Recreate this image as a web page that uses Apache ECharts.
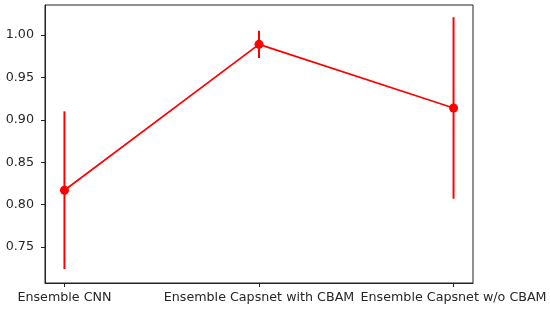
<!DOCTYPE html>
<html>
<head>
<meta charset="utf-8">
<script src="https://cdn.jsdelivr.net/npm/echarts@6/dist/echarts.min.js"></script>
<style>
  html, body { margin: 0; padding: 0; background: #fff; }
  #chart { width: 550px; height: 315px; }
</style>
</head>
<body>
<div id="chart"></div>
<script>
// data
const categories = ['Ensemble CNN', 'Ensemble Capsnet with CBAM', 'Ensemble Capsnet w/o CBAM']
const means = [0.817, 0.989, 0.914]
const errors = [0.093, 0.016, 0.107]
const yTicks = [0.75, 0.80, 0.85, 0.90, 0.95, 1.00]

const red = '#ff0000'
const font = 'DejaVu Sans'

const chart = echarts.init(document.getElementById('chart'))

chart.setOption({
  animation: false,
  grid: {
    left: 45,
    right: 77,
    top: 5,
    bottom: 32,
    show: true,
    borderColor: '#222',
    borderWidth: 1
  },
  xAxis: {
    type: 'value',
    min: -0.1,
    max: 2.1,
    splitLine: { show: false },
    axisLine: { show: true, onZero: false, lineStyle: { color: '#222' } },
    axisTick: { show: true, customValues: [0, 1, 2], length: 4, lineStyle: { color: '#222' } },
    axisLabel: {
      customValues: [0, 1, 2],
      formatter: v => categories[Math.round(v)],
      color: '#262626',
      fontFamily: font,
      fontSize: 12.7,
      margin: 8
    }
  },
  yAxis: {
    type: 'value',
    min: 0.7076,
    max: 1.0354,
    splitLine: { show: false },
    axisLine: { show: true, onZero: false, lineStyle: { color: '#222' } },
    axisTick: { show: true, customValues: yTicks, length: 4, lineStyle: { color: '#222' } },
    axisLabel: {
      customValues: yTicks,
      formatter: v => v.toFixed(2),
      color: '#262626',
      fontFamily: font,
      fontSize: 12.7,
      margin: 11
    }
  },
  series: [
    {
      type: 'custom',
      data: means.map((m, i) => [i, m - errors[i], m + errors[i]]),
      renderItem: function (params, api) {
        const lo = api.coord([api.value(0), api.value(1)])
        const hi = api.coord([api.value(0), api.value(2)])
        return {
          type: 'line',
          shape: { x1: lo[0], y1: lo[1], x2: hi[0], y2: hi[1] },
          style: { stroke: red, lineWidth: 2 }
        }
      },
      z: 2
    },
    {
      type: 'line',
      data: means.map((m, i) => [i, m]),
      symbol: 'circle',
      symbolSize: 9,
      lineStyle: { color: red, width: 1.7 },
      itemStyle: { color: red },
      z: 3
    }
  ]
})
</script>
</body>
</html>
